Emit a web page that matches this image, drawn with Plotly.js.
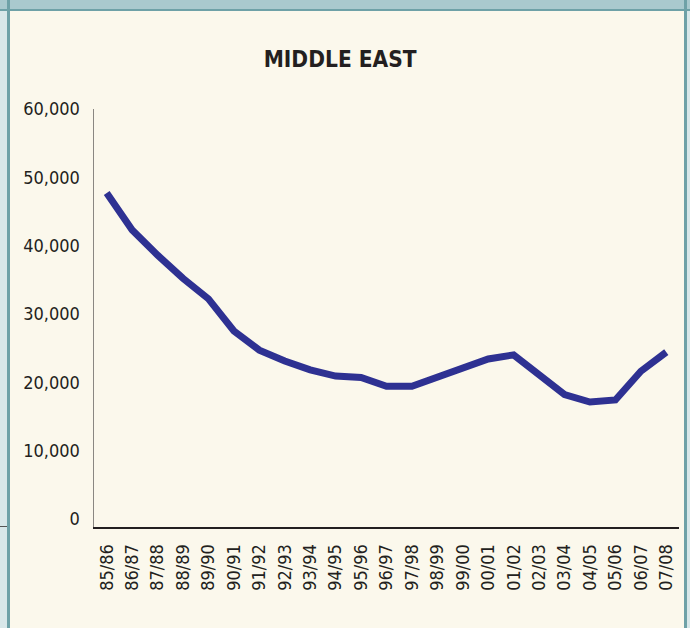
<!DOCTYPE html>
<html>
<head>
<meta charset="utf-8">
<script src="https://cdn.plot.ly/plotly-3.0.1.min.js"></script>
<style>
  html, body { margin: 0; padding: 0; width: 690px; height: 628px; overflow: hidden; background: #fbf8ec; }
  .deco { position: absolute; }
  #chart { position: absolute; left: 0; top: 0; width: 690px; height: 628px; }
</style>
</head>
<body>
<div class="deco" style="left:0;top:0;width:690px;height:9px;background:#a9c9ce;"></div>
<div class="deco" style="left:0;top:9px;width:690px;height:2px;background:#6ea1a7;"></div>
<div class="deco" style="left:0;top:11px;width:7px;height:617px;background:#d8e7e9;"></div>
<div class="deco" style="left:7px;top:0;width:3px;height:628px;background:#6ea1a7;"></div>
<div class="deco" style="left:684px;top:0;width:3px;height:628px;background:#6ea1a7;"></div>
<div class="deco" style="left:687px;top:11px;width:3px;height:617px;background:#d8e7e9;"></div>
<div class="deco" style="left:0;top:526px;width:7px;height:1px;background:#555;"></div>
<div id="chart"></div>
<script>
const years = ["85/86","86/87","87/88","88/89","89/90","90/91","91/92","92/93","93/94","94/95","95/96","96/97","97/98","98/99","99/00","00/01","01/02","02/03","03/04","04/05","05/06","06/07","07/08"];
const students = [47700, 42300, 38600, 35200, 32200, 27500, 24700, 23100, 21800, 20900, 20700, 19400, 19400, 20700, 22200, 23400, 24000, 21000, 18200, 17100, 17400, 21600, 24400];
const yTicks = [0, 10000, 20000, 30000, 40000, 50000, 60000];
const yTickLabels = ["0", "10,000", "20,000", "30,000", "40,000", "50,000", "60,000"];
const chartTitle = "MIDDLE EAST";

const condensed = "DejaVu Sans Condensed, Liberation Sans Narrow, Arial Narrow, sans-serif";

const trace = {
  x: years,
  y: students,
  type: "scatter",
  mode: "lines",
  line: { color: "#2e3192", width: 7 },
  hoverinfo: "x+y"
};

const layout = {
  width: 690,
  height: 628,
  paper_bgcolor: "rgba(0,0,0,0)",
  plot_bgcolor: "rgba(0,0,0,0)",
  margin: { l: 94, r: 11, t: 109, b: 101 },
  showlegend: false,
  title: {
    text: chartTitle,
    font: { family: condensed, size: 22.5, color: "#231f20", weight: "bold" },
    x: 0.493, xref: "container", xanchor: "center",
    y: 0.906, yref: "container", yanchor: "middle"
  },
  xaxis: {
    type: "category",
    range: [-0.5, 22.5],
    showgrid: false,
    zeroline: false,
    showline: true,
    linecolor: "#231f20",
    linewidth: 2,
    ticks: "outside",
    ticklen: 8,
    tickcolor: "rgba(0,0,0,0)",
    tickangle: -90,
    tickfont: { family: condensed, size: 18, color: "#231f20" },
    fixedrange: true
  },
  yaxis: {
    range: [-1200, 60000],
    tickvals: yTicks,
    ticktext: yTickLabels,
    showgrid: false,
    zeroline: false,
    showline: true,
    linecolor: "#8a8782",
    linewidth: 1.5,
    ticks: "outside",
    ticklen: 9,
    tickcolor: "rgba(0,0,0,0)",
    tickfont: { family: condensed, size: 18, color: "#231f20" },
    fixedrange: true
  }
};

Plotly.newPlot("chart", [trace], layout, { displayModeBar: false, staticPlot: true });
</script>
</body>
</html>
